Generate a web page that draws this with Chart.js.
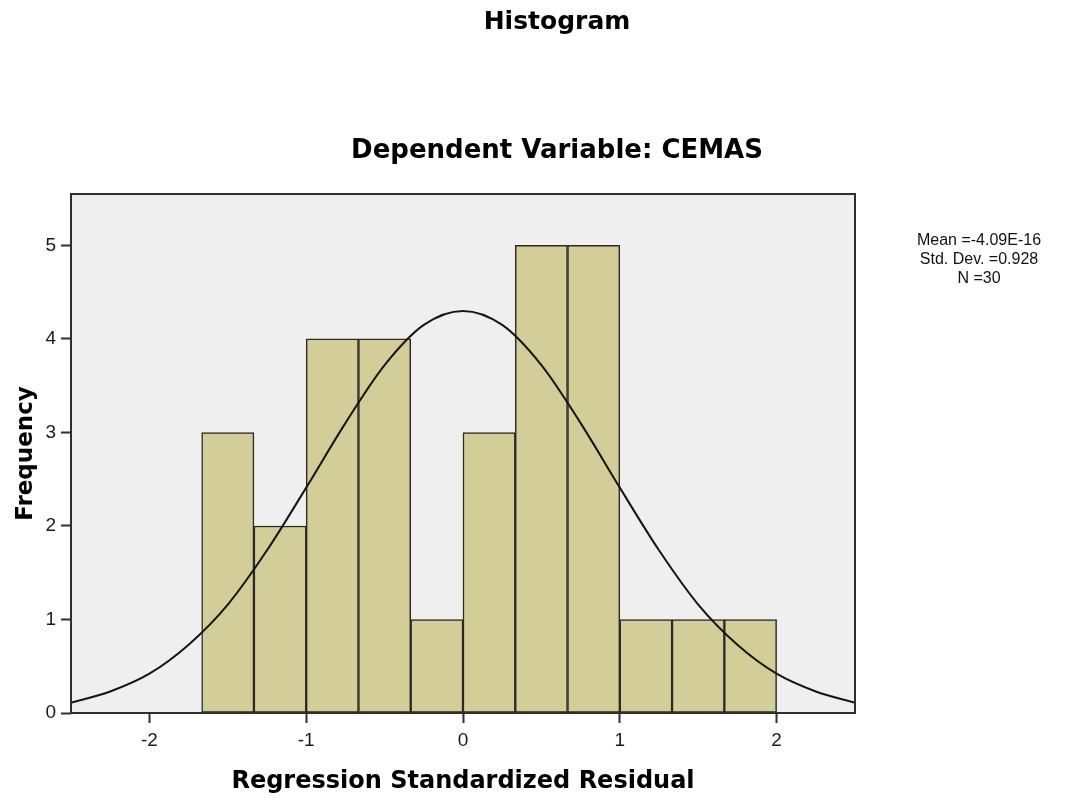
<!DOCTYPE html>
<html>
<head>
<meta charset="utf-8">
<script src="https://cdn.jsdelivr.net/npm/chart.js@4/dist/chart.umd.min.js"></script>
<style>
  html, body { margin: 0; padding: 0; background: #ffffff; overflow: hidden; }
  #wrap { position: relative; width: 1076px; height: 798px; }
  canvas { display: block; }
</style>
</head>
<body>
<div id="wrap"><canvas id="c" width="1076" height="798"></canvas></div>
<script>
// ---- data ----
const mainTitle = "Histogram";
const subTitle = "Dependent Variable: CEMAS";
const xTitle = "Regression Standardized Residual";
const yTitle = "Frequency";
const statsLines = ["Mean =-4.09E-16", "Std. Dev. =0.928", "N =30"];

const binEdges = [-1.6667, -1.3333, -1.0, -0.6667, -0.3333, 0.0, 0.3333, 0.6667, 1.0, 1.3333, 1.6667, 2.0];
const binCounts = [3, 2, 4, 4, 1, 3, 5, 5, 1, 1, 1];

// normal curve
const curveX = [-2.5, -2.25, -2.0, -1.75, -1.5, -1.25, -1.0, -0.75, -0.5, -0.25, 0.0, 0.25, 0.5, 0.75, 1.0, 1.25, 1.5, 1.75, 2.0, 2.25, 2.5];
const curveY = [0.11, 0.23, 0.42, 0.73, 1.16, 1.74, 2.41, 3.10, 3.72, 4.15, 4.30, 4.15, 3.72, 3.10, 2.41, 1.74, 1.16, 0.73, 0.42, 0.23, 0.11];

const xTicks = [-2, -1, 0, 1, 2];
const yTicks = [0, 1, 2, 3, 4, 5];

// ---- build datasets ----
const barData = binCounts.map((c, i) => ({ x: (binEdges[i] + binEdges[i + 1]) / 2, y: c }));
const lineData = curveX.map((x, i) => ({ x: x, y: curveY[i] }));

const bgPlugin = {
  id: 'bgPlugin',
  beforeDraw(chart) {
    const { ctx, chartArea: a } = chart;
    ctx.save();
    ctx.fillStyle = '#efefef';
    ctx.fillRect(a.left, a.top, a.right - a.left, a.bottom - a.top);
    ctx.restore();
  },
  afterDatasetsDraw(chart) {
    const { ctx, chartArea: a } = chart;
    ctx.save();
    ctx.strokeStyle = '#2e2e2e';
    ctx.lineWidth = 2;
    ctx.strokeRect(a.left, a.top, a.right - a.left, a.bottom - a.top);
    ctx.restore();
  },
  afterDraw(chart) {
    const { ctx } = chart;
    ctx.save();
    ctx.fillStyle = '#000';
    ctx.textAlign = 'center';
    ctx.textBaseline = 'alphabetic';
    ctx.font = 'bold 25px "DejaVu Sans"';
    ctx.fillText(mainTitle, 557, 29);
    ctx.font = 'bold 26px "DejaVu Sans"';
    ctx.fillText(subTitle, 557, 158);
    ctx.font = '16px "Liberation Sans"';
    ctx.fillStyle = '#111';
    statsLines.forEach((t, i) => ctx.fillText(t, 979, 245 + i * 19));
    ctx.restore();
  }
};

new Chart(document.getElementById('c'), {
  type: 'bar',
  data: {
    datasets: [
      {
        type: 'line',
        data: lineData,
        borderColor: '#151515',
        borderWidth: 2,
        pointRadius: 0,
        cubicInterpolationMode: 'monotone',
        fill: false,
        order: 0
      },
      {
        type: 'bar',
        data: barData,
        backgroundColor: '#d3ce97',
        borderColor: '#2a2a2a',
        borderWidth: 1.5,
        barPercentage: 1.0,
        categoryPercentage: 1.0,
        borderSkipped: false,
        order: 1
      }
    ]
  },
  options: {
    responsive: false,
    animation: false,
    devicePixelRatio: 1,
    layout: { padding: { left: 0, right: 221, top: 194, bottom: 0 } },
    plugins: {
      legend: { display: false },
      tooltip: { enabled: false },
      title: { display: false }
    },
    scales: {
      x: {
        type: 'linear',
        min: -2.5,
        max: 2.5,
        offset: false,
        afterBuildTicks: (s) => { s.ticks = xTicks.map(v => ({ value: v })); },
        afterFit: (s) => { s.height = 85; },
        border: { display: false },
        grid: { display: true, offset: false, drawOnChartArea: false, drawTicks: true, tickLength: 10, tickColor: '#2e2e2e', tickWidth: 2 },
        ticks: { color: '#1a1a1a', font: { family: 'Liberation Sans', size: 19 }, padding: 6, maxRotation: 0, callback: (v) => String(v) },
        title: { display: true, text: xTitle, color: '#000', font: { family: 'DejaVu Sans', size: 24, weight: 'bold' }, padding: { top: 0, bottom: 2 } }
      },
      y: {
        type: 'linear',
        min: 0,
        max: 5.55,
        afterBuildTicks: (s) => { s.ticks = yTicks.map(v => ({ value: v })); },
        afterFit: (s) => { s.width = 71; },
        border: { display: false },
        grid: { display: true, drawOnChartArea: false, drawTicks: true, tickLength: 10, tickColor: '#2e2e2e', tickWidth: 2 },
        ticks: { color: '#1a1a1a', font: { family: 'Liberation Sans', size: 19 }, padding: 5, callback: (v) => String(v) },
        title: { display: true, text: yTitle, color: '#000', font: { family: 'DejaVu Sans', size: 23, weight: 'bold' }, padding: { top: 12, bottom: 0 } }
      }
    }
  },
  plugins: [bgPlugin]
});
</script>
</body>
</html>
